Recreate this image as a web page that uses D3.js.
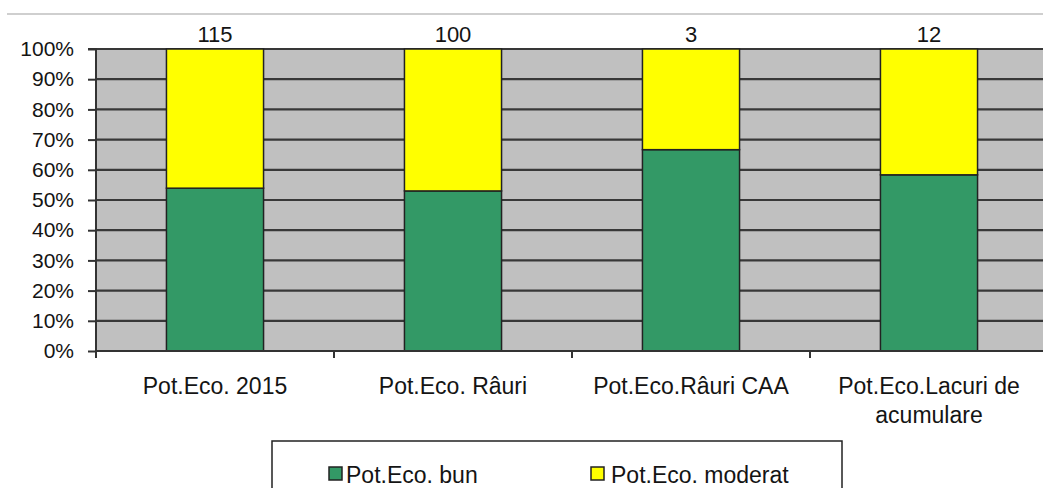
<!DOCTYPE html>
<html>
<head>
<meta charset="utf-8">
<script src="https://cdn.jsdelivr.net/npm/d3@7"></script>
<style>
  html, body { margin: 0; padding: 0; background: #fff; }
  svg { display: block; font-family: "Liberation Sans", Arial, sans-serif; }
</style>
</head>
<body>
<svg id="chart" width="1043" height="488"></svg>
<script>
const categories = ["Pot.Eco. 2015", "Pot.Eco. Râuri", "Pot.Eco.Râuri CAA", "Pot.Eco.Lacuri de acumulare"];
const seriesNames = ["Pot.Eco. bun", "Pot.Eco. moderat"];
const bun = [62, 53, 2, 7];
const moderat = [53, 47, 1, 5];
const yTicks = [0, 0.1, 0.2, 0.3, 0.4, 0.5, 0.6, 0.7, 0.8, 0.9, 1];
const colors = ["#339966", "#FFFF00"];

(function () {
const svg = d3.select("#chart");
const pLeft = 96, pRight = 1048, pTop = 49, pBottom = 351;
const textColor = "#141414";

const rows = categories.map((c, i) => ({cat: c, bun: bun[i], moderat: moderat[i], total: bun[i] + moderat[i]}));
const stack = d3.stack().keys(["bun", "moderat"]).offset(d3.stackOffsetExpand)(rows);

const x = d3.scaleBand().domain(categories).range([pLeft, pRight]).paddingInner(0.592).paddingOuter(0.296);
const xCat = d3.scaleBand().domain(categories).range([pLeft, pRight]);
const y = d3.scaleLinear().domain([0, 1]).range([pBottom, pTop]);

svg.append("line").attr("x1", 7).attr("x2", 1043).attr("y1", 14).attr("y2", 14)
  .attr("stroke", "#cfcfcf").attr("stroke-width", 2);

svg.append("rect").attr("x", pLeft).attr("y", pTop).attr("width", pRight - pLeft).attr("height", pBottom - pTop)
  .attr("fill", "#c0c0c0");

svg.append("g").selectAll("line").data(yTicks.filter(d => d > 0)).join("line")
  .attr("x1", pLeft).attr("x2", pRight)
  .attr("y1", d => y(d)).attr("y2", d => y(d))
  .attr("stroke", "#383838").attr("stroke-width", 2.2);

const yAxis = d3.axisLeft(y).tickValues(yTicks).tickFormat(d3.format(".0%")).tickSize(8).tickPadding(14);
const gy = svg.append("g").attr("transform", `translate(${pLeft},0)`).call(yAxis);
gy.select(".domain").attr("stroke", "#333").attr("stroke-width", 2).attr("d", `M-8,${pTop}H0V${pBottom}`);
gy.selectAll(".tick line").attr("stroke", "#333").attr("stroke-width", 2);
gy.selectAll(".tick text").attr("font-size", "21px").attr("fill", textColor)
  .attr("font-family", "'Liberation Sans', Arial, sans-serif");

const g = svg.append("g");
stack.forEach((s, si) => {
  g.append("g").selectAll("rect").data(s).join("rect")
    .attr("x", d => x(d.data.cat))
    .attr("width", x.bandwidth())
    .attr("y", d => y(d[1]))
    .attr("height", d => y(d[0]) - y(d[1]))
    .attr("fill", colors[si])
    .attr("stroke", "#222")
    .attr("stroke-width", 1.5);
});

const xAxis = d3.axisBottom(xCat).tickSize(0).tickFormat("");
const gx = svg.append("g").attr("transform", `translate(0,${pBottom})`).call(xAxis);
gx.select(".domain").attr("stroke", "#333").attr("stroke-width", 2).attr("d", `M${pLeft},0H${pRight}`);
gx.selectAll(".tick").remove();
gx.selectAll("line.bnd").data(categories.slice(1)).join("line").attr("class", "bnd")
  .attr("x1", d => xCat(d)).attr("x2", d => xCat(d)).attr("y1", 0).attr("y2", 7)
  .attr("stroke", "#333").attr("stroke-width", 2);
gx.append("line").attr("x1", pLeft).attr("x2", pLeft).attr("y1", 0).attr("y2", 7)
  .attr("stroke", "#333").attr("stroke-width", 2);

const labels = svg.append("g").selectAll("text").data(categories).join("text")
  .attr("x", d => xCat(d) + xCat.bandwidth() / 2)
  .attr("y", 394)
  .attr("text-anchor", "middle")
  .attr("font-size", "23px")
  .attr("fill", textColor);
labels.each(function(d) {
  const t = d3.select(this);
  const words = d.split(" ");
  let line = [];
  let ts = t.append("tspan").attr("x", t.attr("x")).attr("dy", 0);
  words.forEach(w => {
    line.push(w);
    ts.text(line.join(" "));
    if (ts.node().getComputedTextLength() > 225 && line.length > 1) {
      line.pop();
      ts.text(line.join(" "));
      line = [w];
      ts = t.append("tspan").attr("x", t.attr("x")).attr("dy", 29).text(w);
    }
  });
});

svg.append("g").selectAll("text").data(rows).join("text")
  .attr("x", d => x(d.cat) + x.bandwidth() / 2)
  .attr("y", 41.5)
  .attr("text-anchor", "middle")
  .attr("font-size", "22px")
  .attr("fill", textColor)
  .text(d => d.total);

const lg = svg.append("g");
lg.append("rect").attr("x", 272).attr("y", 441).attr("width", 570).attr("height", 60)
  .attr("fill", "#fff").attr("stroke", "#222").attr("stroke-width", 1.5);
const legendX = [329, 591];
const items = lg.selectAll("g.item").data(seriesNames).join("g").attr("class", "item")
  .attr("transform", (d, i) => `translate(${legendX[i]},0)`);
items.append("rect").attr("x", 0).attr("y", 467).attr("width", 13).attr("height", 13)
  .attr("fill", (d, i) => colors[i]).attr("stroke", "#222").attr("stroke-width", 1.5);
items.append("text").attr("x", (d, i) => i === 0 ? 17 : 20).attr("y", 483)
  .attr("font-size", "23px").attr("fill", textColor).text(d => d);
})();
</script>
</body>
</html>
